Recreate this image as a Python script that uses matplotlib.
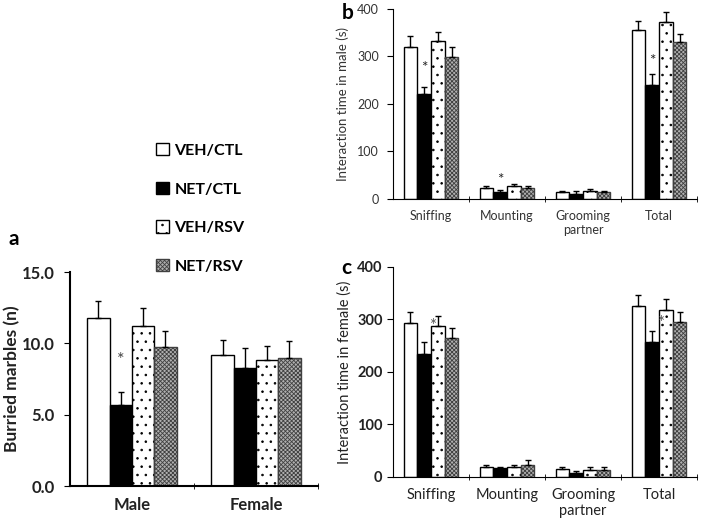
import numpy as np
import matplotlib.pyplot as plt
from matplotlib.patches import Patch

plt.rcParams['font.family'] = ['Lato', 'DejaVu Sans']
plt.rcParams['hatch.linewidth'] = 0.6

groups = ['VEH/CTL', 'NET/CTL', 'VEH/RSV', 'NET/RSV']

# panel a: buried marbles
sex = ['Male', 'Female']
marbles_mean = np.array([[11.8, 9.15],     # VEH/CTL
                         [5.7, 8.3],       # NET/CTL
                         [11.2, 8.8],      # VEH/RSV
                         [9.75, 8.95]])    # NET/RSV
marbles_err = np.array([[1.15, 1.1],
                        [0.9, 1.35],
                        [1.25, 1.0],
                        [1.15, 1.2]])

# panel b / c: interaction time
behav = ['Sniffing', 'Mounting', 'Grooming\npartner', 'Total']
male_mean = np.array([[320, 23, 14, 355],
                      [221, 14, 11, 241],
                      [333, 27, 16, 372],
                      [298, 23, 14, 330]])
male_err = np.array([[24, 5, 3, 19],
                     [15, 4, 5, 23],
                     [18, 4, 4, 22],
                     [22, 4, 3, 17]])
female_mean = np.array([[294, 19, 14, 325],
                        [235, 16, 8, 257],
                        [287, 19, 13, 318],
                        [265, 22, 13, 295]])
female_err = np.array([[20, 4, 4, 21],
                       [22, 3, 3, 20],
                       [19, 4, 5, 21],
                       [18, 9, 5, 20]])

styles = [dict(facecolor='white', edgecolor='black'),
          dict(facecolor='black', edgecolor='black'),
          dict(facecolor='white', edgecolor='black', hatch='..'),
          dict(facecolor='#b0b0b0', edgecolor='#404040', hatch='xxxxxxxx')]

W = 0.18


def draw_bars(ax, means, errs):
    n = means.shape[1]
    x = np.arange(n)
    for i in range(4):
        xi = x + (i - 1.5) * W
        ax.bar(xi, means[i], W, linewidth=1, **styles[i])
        ax.errorbar(xi, means[i], yerr=[np.zeros(n), errs[i]], fmt='none',
                    ecolor='black', elinewidth=1, capsize=2.5, capthick=1)
    ax.set_xlim(-0.5, n - 0.5)
    ax.set_xticks(x)
    ax.set_xticks(np.arange(n) + 0.5, minor=True)
    ax.tick_params(axis='x', which='major', length=0, pad=8)
    ax.tick_params(axis='x', which='minor', length=4, direction='inout')
    ax.tick_params(axis='y', length=4, direction='out')
    for s in ['top', 'right']:
        ax.spines[s].set_visible(False)


fig = plt.figure(figsize=(7.09, 5.26), dpi=100)

# a
axa = fig.add_axes([0.0987, 0.076, 0.3498, 0.4068])
draw_bars(axa, marbles_mean, marbles_err)
axa.set_ylim(0, 15)
axa.set_yticks([0, 5, 10, 15])
axa.set_yticklabels(['0.0', '5.0', '10.0', '15.0'], fontweight='bold', fontsize=12, color='#222222')
axa.tick_params(axis='y', pad=7)
axa.set_xticklabels(sex, fontweight='bold', fontsize=12, color='#222222')
axa.set_ylabel('Burried marbles (n)', fontweight='bold', fontsize=12.5, color='#222222')
axa.yaxis.set_label_coords(-0.2, 0.5)
axa.text(-0.5 * W, 8.8, '*', ha='center', va='center', fontsize=13, color='#444444')
for sp in axa.spines.values():
    sp.set_linewidth(1.5)

# b
axb = fig.add_axes([0.5543, 0.6217, 0.4288, 0.3612])
draw_bars(axb, male_mean, male_err)
axb.set_ylim(0, 400)
axb.set_yticks([0, 100, 200, 300, 400])
axb.tick_params(axis='y', labelsize=9, labelcolor='#333333', pad=6)
axb.set_xticklabels(behav, fontsize=9, color='#333333')
axb.set_ylabel('Interaction time in male (s)', fontsize=9.5, color='#333333', labelpad=6)
for k, yv in [(0, 276), (1, 40), (3, 290)]:
    axb.text(k - 0.5 * W, yv, '*', ha='center', va='center', fontsize=11, color='#222222')

# c
axc = fig.add_axes([0.5543, 0.0937, 0.4288, 0.3987])
draw_bars(axc, female_mean, female_err)
axc.set_ylim(0, 400)
axc.set_yticks([0, 100, 200, 300, 400])
axc.tick_params(axis='y', labelsize=10.5)
for t in axc.get_yticklabels():
    t.set_fontweight('bold')
    t.set_color('#222222')
axc.set_xticklabels(behav, fontsize=10.5, color='#222222')
axc.set_ylabel('Interaction time in female (s)', fontsize=10.5, color='#222222')
axc.text(0 + 0.1 * W, 288, '*', ha='center', va='center', fontsize=12, color='#555555')
axc.text(3 + 0.1 * W, 293, '*', ha='center', va='center', fontsize=12, color='#555555')

fig.text(0.012, 0.545, 'a', fontsize=15, fontweight='bold', va='center')
fig.text(0.482, 0.975, 'b', fontsize=15, fontweight='bold', va='center')
fig.text(0.482, 0.49, 'c', fontsize=15, fontweight='bold', va='center')

handles = [Patch(linewidth=1, **st) for st in styles]
fig.legend(handles, groups, loc='upper left', bbox_to_anchor=(0.2, 0.755),
           frameon=False, prop={'weight': 'bold', 'size': 11.5},
           handlelength=0.8, handleheight=0.8, handletextpad=0.35, labelspacing=1.5)

fig.savefig('out.png', dpi=100)
